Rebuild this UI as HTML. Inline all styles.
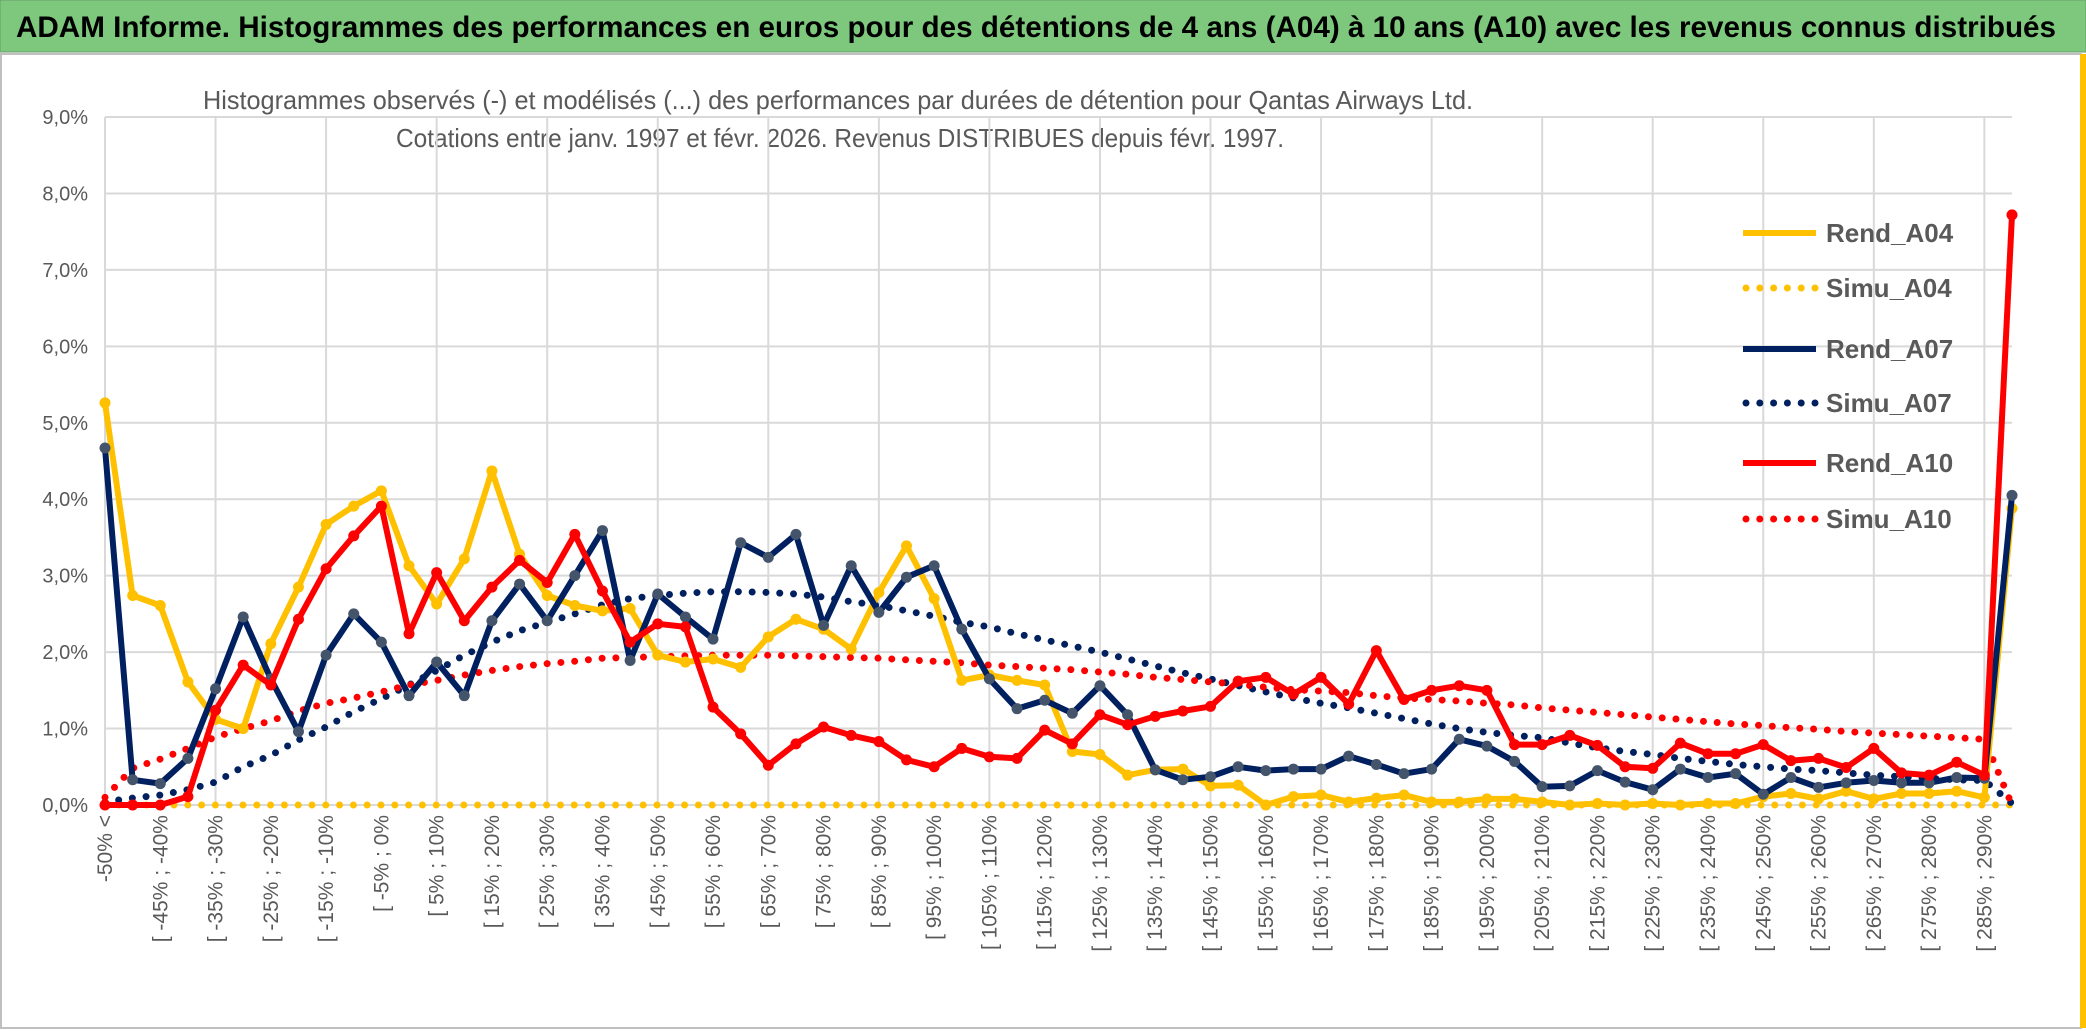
<!DOCTYPE html>
<html><head><meta charset="utf-8">
<style>
html,body{margin:0;padding:0;background:#fff;}
svg{display:block;font-family:"Liberation Sans Narrow","Liberation Sans",sans-serif;}
</style></head>
<body>
<svg id="chart" width="2086" height="1031" viewBox="0 0 2086 1031" xmlns="http://www.w3.org/2000/svg">
  <rect x="0" y="0" width="2086" height="1031" fill="#ffffff"/>
  <rect x="0" y="0" width="2086" height="52" fill="#7dc87d" stroke="#6a9a6a" stroke-width="1"/>
  <text x="16" y="37" font-size="30" font-weight="bold" fill="#000" textLength="2040" lengthAdjust="spacingAndGlyphs">ADAM Informe. Histogrammes des performances en euros pour des détentions de 4 ans (A04) à 10 ans (A10) avec les revenus connus distribués</text>
  <rect x="1" y="54" width="2080" height="974" fill="none" stroke="#bfbfbf" stroke-width="2"/>
  <rect x="2080" y="54" width="6" height="974" fill="#ffc000"/>
  <text x="838" y="109" font-size="26" fill="#595959" text-anchor="middle" textLength="1270" lengthAdjust="spacingAndGlyphs">Histogrammes observés (-) et modélisés (...) des performances par durées de détention pour Qantas Airways Ltd.</text>
  <text x="840" y="147" font-size="26" fill="#595959" text-anchor="middle" textLength="888" lengthAdjust="spacingAndGlyphs">Cotations entre janv. 1997 et févr. 2026. Revenus DISTRIBUES depuis févr. 1997.</text>
  <g id="grid"></g>
  <g id="yaxis"></g>
  <g id="xaxis"></g>
  <g id="series"></g>
  <g id="legend"></g>
</svg>
<script>
const rendA04 = [5.26,2.74,2.61,1.61,1.12,1.0,2.11,2.85,3.67,3.91,4.11,3.13,2.63,3.22,4.37,3.28,2.74,2.61,2.54,2.57,1.96,1.87,1.91,1.8,2.2,2.43,2.3,2.04,2.78,3.39,2.7,1.63,1.7,1.63,1.57,0.7,0.66,0.39,0.46,0.47,0.25,0.26,0.0,0.11,0.13,0.04,0.09,0.13,0.04,0.04,0.08,0.08,0.04,0.0,0.02,0.0,0.02,0.0,0.02,0.02,0.11,0.15,0.08,0.18,0.08,0.15,0.15,0.18,0.1,3.88];
const rendA07 = [4.67,0.33,0.28,0.61,1.52,2.46,1.65,0.96,1.96,2.5,2.13,1.43,1.87,1.43,2.41,2.89,2.41,3.0,3.59,1.89,2.76,2.46,2.17,3.43,3.24,3.54,2.35,3.13,2.52,2.98,3.13,2.3,1.65,1.26,1.37,1.2,1.56,1.18,0.46,0.33,0.37,0.5,0.45,0.47,0.47,0.64,0.53,0.41,0.47,0.86,0.77,0.57,0.24,0.25,0.45,0.3,0.2,0.47,0.36,0.41,0.14,0.36,0.23,0.29,0.32,0.29,0.29,0.36,0.35,4.05];
const rendA10 = [0,0,0,0.11,1.24,1.83,1.57,2.43,3.09,3.52,3.91,2.24,3.04,2.41,2.85,3.2,2.91,3.54,2.8,2.13,2.37,2.33,1.28,0.93,0.52,0.8,1.02,0.91,0.83,0.59,0.5,0.74,0.63,0.61,0.98,0.8,1.18,1.05,1.16,1.23,1.29,1.62,1.67,1.45,1.67,1.32,2.02,1.38,1.5,1.56,1.5,0.79,0.79,0.91,0.78,0.5,0.48,0.81,0.67,0.67,0.79,0.58,0.61,0.49,0.74,0.42,0.39,0.56,0.39,7.72];
const simuA04 = [0,0,0,0,0,0,0,0,0,0,0,0,0,0,0,0,0,0,0,0,0,0,0,0,0,0,0,0,0,0,0,0,0,0,0,0,0,0,0,0,0,0,0,0,0,0,0,0,0,0,0,0,0,0,0,0,0,0,0,0,0,0,0,0,0,0,0,0,0,0];
const simuA07 = [0.04,0.09,0.13,0.2,0.3,0.5,0.65,0.85,1.02,1.22,1.39,1.57,1.76,1.96,2.13,2.28,2.39,2.5,2.62,2.7,2.74,2.77,2.79,2.79,2.78,2.76,2.72,2.66,2.61,2.54,2.47,2.39,2.33,2.24,2.16,2.08,2.0,1.91,1.82,1.73,1.65,1.56,1.48,1.4,1.33,1.27,1.2,1.13,1.06,1.0,0.95,0.91,0.88,0.81,0.75,0.7,0.66,0.61,0.57,0.53,0.5,0.47,0.45,0.42,0.39,0.37,0.35,0.33,0.32,0.02];
const simuA10 = [0.1,0.48,0.6,0.74,0.89,1.0,1.1,1.23,1.33,1.4,1.48,1.57,1.63,1.7,1.76,1.81,1.85,1.88,1.92,1.93,1.94,1.95,1.96,1.96,1.96,1.95,1.94,1.93,1.92,1.9,1.88,1.86,1.83,1.81,1.79,1.77,1.74,1.71,1.67,1.64,1.61,1.58,1.54,1.51,1.49,1.47,1.43,1.4,1.38,1.36,1.33,1.31,1.27,1.24,1.21,1.18,1.15,1.12,1.09,1.06,1.04,1.01,0.99,0.96,0.94,0.92,0.9,0.88,0.86,0.0];
const yTicks = [0,1,2,3,4,5,6,7,8,9];
const yTickLabels = ["0,0%","1,0%","2,0%","3,0%","4,0%","5,0%","6,0%","7,0%","8,0%","9,0%"];
const categories = ["-50% <"];
for (let b = -50; b < 290; b += 5) categories.push("[ " + b + "% ; " + (b + 5) + "%");
categories.push("> 290%");

const NS = "http://www.w3.org/2000/svg";
const X0 = 105, X1 = 2012, Y0 = 805, Ymax = 117, VMAX = 9;
const n = categories.length;
function xs(i){ return X0 + i * (X1 - X0) / (n - 1); }
function ys(v){ return Y0 - v * (Y0 - Ymax) / VMAX; }
function mk(tag, attrs, parent){ const e = document.createElementNS(NS, tag); for (const k in attrs) e.setAttribute(k, attrs[k]); parent.appendChild(e); return e; }

const grid = document.getElementById('grid');
yTicks.forEach((t) => {
  const l = mk('line', {x1: X0, x2: X1, y1: ys(t), y2: ys(t), stroke: '#d9d9d9', 'stroke-width': 2}, grid);
  
  
});
for (let i = 0; i < n; i += 4) {
  const l = mk('line', {x1: xs(i), x2: xs(i), y1: ys(VMAX), y2: Y0, stroke: '#d9d9d9', 'stroke-width': 2}, grid);
  
  
}
const yax = document.getElementById('yaxis');
yTicks.forEach((t, k) => {
  const tx = mk('text', {x: 88, y: ys(t) + 7, 'font-size': 20, fill: '#595959', 'text-anchor': 'end'}, yax);
  tx.textContent = yTickLabels[k];
  
  
});
const xax = document.getElementById('xaxis');
for (let i = 0; i < n - 1; i += 2) {
  const x = xs(i) + 7, y = 815;
  const tx = mk('text', {x: x, y: y, 'font-size': 21, fill: '#595959', 'text-anchor': 'end', transform: 'rotate(-90 ' + x + ' ' + y + ')'}, xax);
  tx.textContent = categories[i];
  
  
}

const series = document.getElementById('series');
function pts(arr){ return arr.map((v, i) => xs(i).toFixed(1) + ',' + ys(v).toFixed(1)).join(' '); }
function dotted(arr, color, name){
  const p = mk('polyline', {points: pts(arr), fill: 'none', stroke: color, 'stroke-width': 7, 'stroke-linecap': 'round', 'stroke-dasharray': '0 13.8'}, series);
  
  
}
function solid(arr, color, mcolor, name){
  const g = mk('g', {}, series);
  
  
  mk('polyline', {points: pts(arr), fill: 'none', stroke: color, 'stroke-width': 6, 'stroke-linejoin': 'round'}, g);
  arr.forEach((v, i) => {
    const c = mk('circle', {cx: xs(i), cy: ys(v), r: 5.5, fill: mcolor}, g);
    
    
  });
}
dotted(simuA04, '#ffc000', 'simu-a04-line');
dotted(simuA07, '#002060', 'simu-a07-line');
dotted(simuA10, '#ff0000', 'simu-a10-line');
solid(rendA04, '#ffc000', '#ffc000', 'rend-a04-line');
solid(rendA07, '#002060', '#44546a', 'rend-a07-line');
solid(rendA10, '#ff0000', '#ff0000', 'rend-a10-line');

const legendItems = [
  {label: 'Rend_A04', color: '#ffc000', dot: false, y: 233},
  {label: 'Simu_A04', color: '#ffc000', dot: true, y: 288},
  {label: 'Rend_A07', color: '#002060', dot: false, y: 349},
  {label: 'Simu_A07', color: '#002060', dot: true, y: 403},
  {label: 'Rend_A10', color: '#ff0000', dot: false, y: 463},
  {label: 'Simu_A10', color: '#ff0000', dot: true, y: 519}
];
const leg = document.getElementById('legend');
legendItems.forEach((it) => {
  const g = mk('g', {}, leg);
  
  
  if (it.dot) mk('line', {x1: 1746, x2: 1816, y1: it.y, y2: it.y, stroke: it.color, 'stroke-width': 7, 'stroke-linecap': 'round', 'stroke-dasharray': '0 13.8'}, g);
  else mk('line', {x1: 1743, x2: 1816, y1: it.y, y2: it.y, stroke: it.color, 'stroke-width': 6}, g);
  const t = mk('text', {x: 1826, y: it.y + 9, 'font-size': 26, 'font-weight': 'bold', fill: '#595959'}, g);
  t.textContent = it.label;
});
</script>
</body></html>
